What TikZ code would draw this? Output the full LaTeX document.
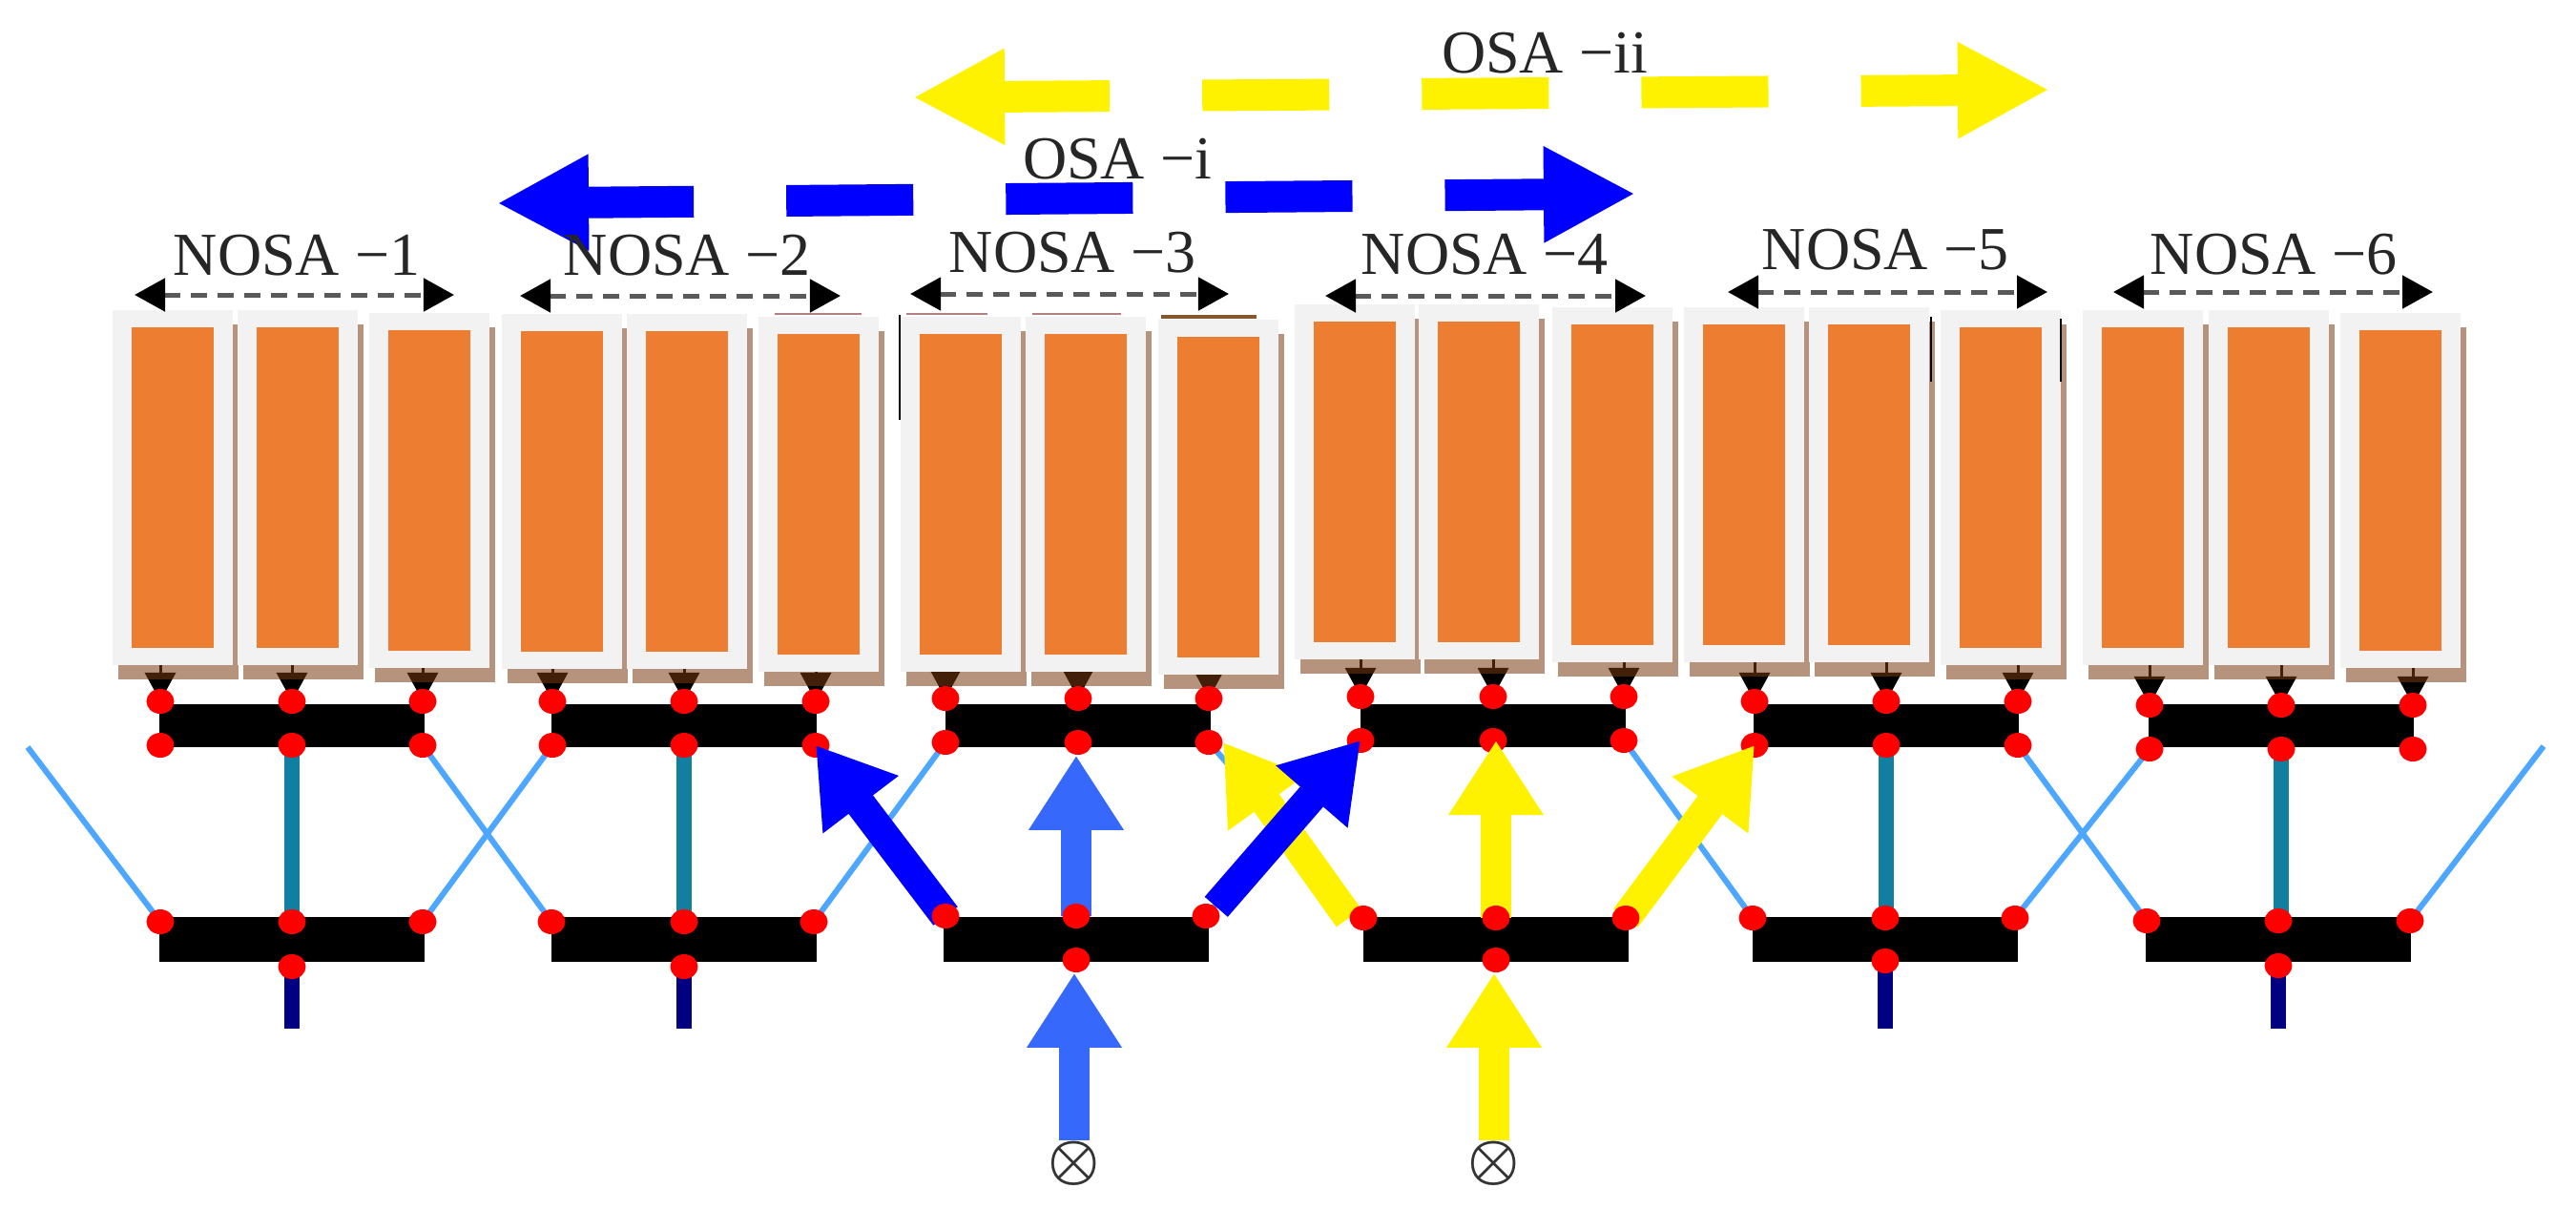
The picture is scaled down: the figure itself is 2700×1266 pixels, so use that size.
\documentclass[tikz,border=0pt]{standalone}
\usepackage{fontspec}
\setmainfont{Liberation Serif}
\usepackage{xcolor}
\usetikzlibrary{arrows.meta,shapes}
\definecolor{cellorange}{HTML}{ED7D31}
\definecolor{rimgrey}{HTML}{F2F2F2}
\definecolor{shadebrown}{HTML}{7A3A10}
\definecolor{wireblue}{HTML}{4DA6FF}
\definecolor{stemteal}{HTML}{117F9F}
\definecolor{stemnavy}{HTML}{000080}
\definecolor{feedblue}{HTML}{3568FB}
\pgfdeclarelayer{under}
\pgfdeclarelayer{front}
\pgfsetlayers{under,main,front}
\tikzset{
bigtip/.style={line width=.32cm,-{Triangle[length=.78cm,width=.94cm]}},
osatip/.style={line width=.33cm,dash pattern=on 1.33cm off .97cm,dash phase=.17cm,{Triangle[length=.96cm,width=.94cm]}-{Triangle[length=.96cm,width=.94cm]}},
nosatip/.style={line width=.05cm,black!65,dash pattern=on .17cm off .11cm,{Triangle[length=.32cm,width=.34cm,black]}-{Triangle[length=.32cm,width=.34cm,black]}},
dot/.style={ellipse,fill=red,inner sep=0pt,minimum width=.29cm,minimum height=.26cm},
bar/.style={fill=black,inner sep=0pt,minimum width=2.77cm},
shadebox/.style={fill=shadebrown,opacity=.55,inner sep=0pt,minimum width=1.25cm,minimum height=3.71cm},
rim/.style={fill=rimgrey,inner sep=0pt,minimum width=1.25cm,minimum height=3.71cm},
cell/.style={fill=cellorange,inner sep=0pt,minimum width=.86cm,minimum height=3.36cm},
lbl/.style={inner sep=0pt,black!85,font=\fontsize{18.2}{20}\selectfont},
cross/.style={inner sep=0pt,font=\fontsize{18.2}{20}\selectfont\boldmath,black!80},
feed/.style={black,line width=.03cm,-{Triangle[length=.3cm,width=.32cm]}},
wire/.style={wireblue,line width=.06cm},
stem/.style={line width=.16cm}
}
\begin{document}
\begin{tikzpicture}[x=.01cm,y=-.01cm]
\useasboundingbox(0,0)rectangle(2700,1266);
\foreach \g/\s/\x/\y in {1/a/181/511,1/b/312/511,1/c/450/514,2/a/589/515,2/b/720/515,2/c/858/518,3/a/1007/518,3/b/1138/518,3/c/1277/521,4/a/1420/505,4/b/1550/505,4/c/1690/508,5/a/1828/508,5/b/1959/508,5/c/2097/511,6/a/2246/511,6/b/2378/511,6/c/2516/514}{
\node[shadebox] at (\x+6,\y+15){};
\node[rim](p\g\s) at (\x,\y){};
\node[cell](c\g\s) at (\x,\y){};
}
\draw[line width=.04cm,brown!70!black](1217,332)--(1317,332);
\draw[line width=.015cm,red!40!black!50](812,329)--(903,329) (950,329)--(1035,329) (1082,329)--(1175,329);
\draw[line width=.02cm,black](943,330)--(943,440) (2024,332)--(2024,400) (2160,334)--(2160,400);
\foreach \g/\ta/\tb/\tc/\ty/\my/\la/\lb/\lc/\ly/\by in {1/168/306/443/735/781/168/306/443/966/1013,2/579/717/855/735/781/578/717/853/966/1013,3/991/1130/1267/732/778/991/1128/1264/960/1006,4/1426/1565/1702/730/776/1429/1568/1704/962/1006,5/1839/1977/2115/735/781/1837/1976/2112/962/1007,6/2253/2391/2529/739/785/2250/2388/2526/965/1012}{
\node[bar,minimum height=.45cm](ubar\g) at (\tb,760){};
\node[bar,minimum height=.47cm](lbar\g) at (\lb,984){};
\node[dot](t\g a) at (\ta,\ty){};
\node[dot](t\g b) at (\tb,\ty){};
\node[dot](t\g c) at (\tc,\ty){};
\node[dot](m\g a) at (\ta,\my){};
\node[dot](m\g b) at (\tb,\my){};
\node[dot](m\g c) at (\tc,\my){};
\begin{pgfonlayer}{front}
\node[dot](l\g a) at (\la,\ly){};
\node[dot](l\g b) at (\lb,\ly){};
\node[dot](l\g c) at (\lc,\ly){};
\node[dot](b\g) at (\lb,\by){};
\end{pgfonlayer}
\coordinate(e\g) at (\lb,1078);
\begin{pgfonlayer}{under}
\foreach \s in {a,b,c}
\draw[feed](t\g\s.center|-p\g\s.south)--(t\g\s.center);
\end{pgfonlayer}
}
\coordinate(wl) at (29,783);
\coordinate(wr) at (2666,782);
\begin{pgfonlayer}{under}
\foreach \g in {1,2,5,6}{
\draw[stem,stemteal](m\g b.center)--(m\g b.center|-l\g b.center);
\draw[stem,stemnavy](b\g.center)--(e\g);
}
\draw[wire](wl)--(l1a.center) (l6c.center)--(wr);
\foreach \i/\j in {1/2,2/3,3/4,4/5,5/6}{
\draw[wire](m\i c.center)--(l\j a.center);
\draw[wire](m\j a.center)--(l\i c.center);
}
\end{pgfonlayer}
\node[cross](x3) at (1126,1219){$\otimes$};
\node[cross](x4) at (1566,1219){$\otimes$};
\draw[bigtip,yellow](l4a.west)--(m3c.east);
\draw[bigtip,yellow](l4b.center)--(l4b.center|-m4b.center);
\draw[bigtip,yellow](l4c.center)--(m5a.center);
\draw[bigtip,yellow](x4.north)--(x4.north|-b4.south);
\draw[bigtip,blue](l3a.center)--(m2c.center);
\draw[bigtip,blue](l3c.north east)--(m4a.center);
\draw[bigtip,feedblue](l3b.center)--(l3b.center|-m3b.south);
\draw[bigtip,feedblue](x3.north)--(x3.north|-b3.south);
\coordinate(osaiiL) at (957,102);
\coordinate(osaiiR) at (2148,94);
\coordinate(osaiL) at (521,213);
\coordinate(osaiR) at (1714,203);
\draw[osatip,yellow](osaiiL)--(osaiiR);
\draw[osatip,blue](osaiL)--(osaiR);
\node[lbl](osaii) at (1619,56){OSA −ii};
\node[lbl](osai) at (1171,167){OSA −i};
\foreach \g/\x/\y/\a/\b/\d in {1/311/268/141/476/309,2/720/268/545/881/310,3/1124/265/954/1288/308,4/1556/267/1389/1725/310,5/1976/262/1811/2146/306,6/2383/267/2215/2550/306}{
\node[lbl](n\g) at (\x,\y){NOSA −\g};
\coordinate(da\g) at (\a,\d);
\coordinate(db\g) at (\b,\d);
\draw[nosatip](da\g)--(db\g);
}
\end{tikzpicture}
\end{document}
